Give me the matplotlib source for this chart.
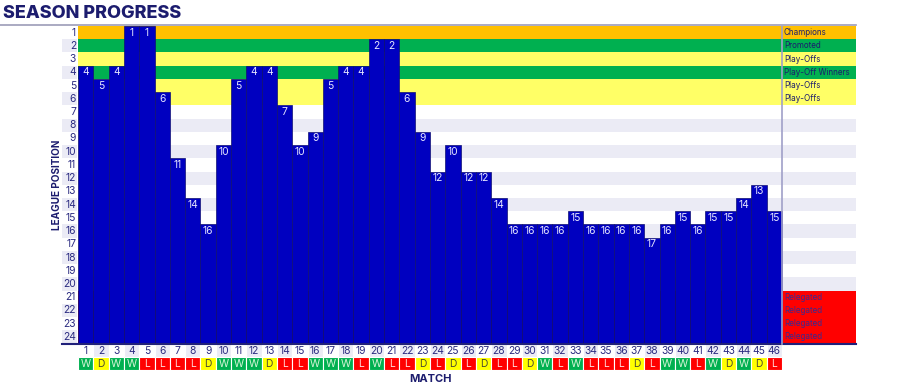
import matplotlib.pyplot as plt
from matplotlib.patches import Rectangle
from matplotlib.lines import Line2D

# league position after each match
matches = list(range(1, 47))
positions = [4, 5, 4, 1, 1, 6, 11, 14, 16, 10, 5, 4, 4, 7, 10, 9, 5, 4, 4, 2,
             2, 6, 9, 12, 10, 12, 12, 14, 16, 16, 16, 16, 15, 16, 16, 16, 16, 17, 16, 15,
             16, 15, 15, 14, 13, 15]
results = ['W', 'D', 'W', 'W', 'L', 'L', 'L', 'L', 'D', 'W', 'W', 'W', 'D', 'L', 'L', 'W',
           'W', 'W', 'L', 'W', 'L', 'L', 'D', 'L', 'D', 'L', 'D', 'L', 'L', 'D', 'W', 'L',
           'W', 'L', 'L', 'L', 'D', 'L', 'W', 'W', 'L', 'W', 'D', 'W', 'D', 'L']
zone_rows = [1, 2, 3, 4, 5, 6, 21, 22, 23, 24]
zone_names = ['Champions', 'Promoted', 'Play-Offs', 'Play-Off Winners', 'Play-Offs', 'Play-Offs',
              'Relegated', 'Relegated', 'Relegated', 'Relegated']
zone_colors = ['#FFC000', '#00B050', '#FFFF66', '#00B050', '#FFFF66', '#FFFF66',
               '#FF0000', '#FF0000', '#FF0000', '#FF0000']
n_teams = 24

navy = '#1c1c6e'
lav = '#ebebf5'
bar_col = '#0000C0'
res_col = {'W': '#00B050', 'D': '#FFFF00', 'L': '#FF0000'}
res_txt = {'W': '#d8f5d8', 'D': '#4a4a30', 'L': '#ffd8d8'}

plt.rcParams['font.family'] = ['Inter', 'Liberation Sans', 'DejaVu Sans']

fig = plt.figure(figsize=(9, 3.86), dpi=100)
W, H = 900, 386
left, right, top, bottom = 78, 856, 26, 370
ax = fig.add_axes([left / W, 1 - bottom / H, (right - left) / W, (bottom - top) / H])
unit = (782 - 78) / 46.0
xmax = 0.5 + (right - left) / unit
ax.set_xlim(0.5, xmax)
ax.set_ylim(n_teams + 2.5, 0.5)
ax.axis('off')

# stripes and position labels
for r in range(1, n_teams + 1):
    c = lav if r % 2 == 0 else 'white'
    ax.add_patch(Rectangle((0.5, r - 0.5), xmax - 0.5, 1, facecolor=c, edgecolor='none', zorder=0))
    if r % 2 == 0:
        ax.add_patch(Rectangle((-0.55, r - 0.5), 0.98, 1, facecolor=lav, edgecolor='none',
                               clip_on=False, zorder=0))
    ax.text(0.37, r, str(r), ha='right', va='center', fontsize=7.4, color='#2a2a80', clip_on=False)

# zones
for r, name, c in zip(zone_rows, zone_names, zone_colors):
    ax.add_patch(Rectangle((0.5, r - 0.5), xmax - 0.5, 1, facecolor=c, edgecolor='none', zorder=1))
    tc = '#3a2a90' if name == 'Relegated' else '#1c1c6e'
    ax.text(46.62, r, name, ha='left', va='center', fontsize=5.8, color=tc, zorder=5)

# bars
heights = [n_teams + 0.5 - (p - 0.5) for p in positions]
ax.bar(matches, heights, bottom=[p - 0.5 for p in positions], width=1.0,
       color=bar_col, edgecolor='#101070', linewidth=0.5, zorder=3)
for m, p in zip(matches, positions):
    ax.text(m, p, str(p), ha='center', va='center', fontsize=7.4, color='#e6e6ff', zorder=4)

# match numbers and results
for m, r in zip(matches, results):
    c = 'white' if m % 2 == 1 else lav
    ax.add_patch(Rectangle((m - 0.5, n_teams + 0.5), 1, 1, facecolor=c, edgecolor='white',
                           linewidth=0.8, zorder=2))
    ax.text(m, n_teams + 1.05, str(m), ha='center', va='center', fontsize=7.4, color='#2a2a80')
    ax.add_patch(Rectangle((m - 0.5, n_teams + 1.5), 1, 1, facecolor=res_col[r], edgecolor='white',
                           linewidth=0.8, zorder=2))
    ax.text(m, n_teams + 2.05, r, ha='center', va='center', fontsize=7.4, color=res_txt[r])

# lines
ax.plot([-0.55, xmax], [n_teams + 0.5, n_teams + 0.5], color='#20207a', linewidth=1.5,
        clip_on=False, zorder=6)
ax.plot([46.5, 46.5], [0.5, n_teams + 0.5], color='#a0a0c8', linewidth=1.2, zorder=6)
fig.add_artist(Line2D([0, right / W], [1 - 25 / H, 1 - 25 / H], color='#9c9cb8', linewidth=1.2))

fig.text(3 / W, 1 - 14 / H, 'SEASON PROGRESS', fontsize=13, fontweight='heavy', color=navy,
         ha='left', va='center')
fig.text(57 / W, 1 - 185 / H, 'LEAGUE POSITION', fontsize=7.2, fontweight='bold', color=navy,
         rotation=90, ha='center', va='center')
fig.text(430 / W, 1 - 379 / H, 'MATCH', fontsize=8, fontweight='bold', color=navy,
         ha='center', va='center')

fig.savefig('out.png', dpi=100)
